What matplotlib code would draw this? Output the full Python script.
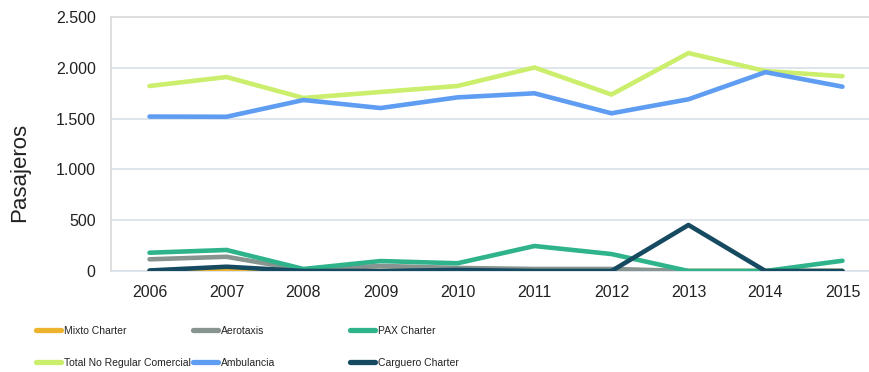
import matplotlib
matplotlib.use("Agg")
import matplotlib.pyplot as plt
from matplotlib.lines import Line2D

plt.rcParams['font.family'] = ['Liberation Sans', 'DejaVu Sans']

years = ["2006", "2007", "2008", "2009", "2010", "2011", "2012", "2013", "2014", "2015"]

mixto_charter = [0, 15, 0, 0, 0, 0, 5, 0, 0, 0]
aerotaxis = [115, 140, 10, 50, 30, 20, 20, 0, 0, 0]
pax_charter = [180, 207, 20, 98, 76, 246, 167, 0, 0, 101]
total_no_regular = [1821, 1909, 1703, 1762, 1821, 2003, 1737, 2145, 1968, 1917]
ambulancia = [1520, 1518, 1683, 1604, 1709, 1749, 1552, 1690, 1957, 1814]
carguero_charter = [5, 42, 0, 0, 10, 0, 0, 453, 0, 0]

series = [
    ("Mixto Charter", mixto_charter, "#EDB32E"),
    ("Aerotaxis", aerotaxis, "#87948F"),
    ("PAX Charter", pax_charter, "#2FB38A"),
    ("Total No Regular Comercial", total_no_regular, "#CBEE6C"),
    ("Ambulancia", ambulancia, "#5E9DF2"),
    ("Carguero Charter", carguero_charter, "#164A61"),
]

fig = plt.figure(figsize=(8.7, 3.72), dpi=100)
ax = fig.add_axes([0.1276, 0.2715, 0.885, 0.6828])

x = list(range(len(years)))
for name, vals, color in series:
    ax.plot(x, vals, color=color, lw=3.3, solid_capstyle="round",
            solid_joinstyle="round", label=name, zorder=3)

ax.set_xlim(-0.5, len(years) - 0.5)
ax.set_ylim(0, 2500)
ax.set_yticks([0, 500, 1000, 1500, 2000, 2500])
ax.set_yticklabels(["0", "500", "1.000", "1.500", "2.000", "2.500"])
ax.set_xticks(x)
ax.set_xticklabels(years)
ax.tick_params(axis="both", length=0, labelsize=11.5, colors="#222222")
ax.tick_params(axis="y", pad=11)
ax.tick_params(axis="x", pad=10)

ax.grid(axis="y", color="#D8E0EA", lw=1.2, zorder=1)
ax.spines["right"].set_visible(False)
ax.spines["top"].set_color("#D9D9D9")
ax.spines["left"].set_color("#D9D9D9")
ax.spines["bottom"].set_color("#D8E0EA")
for s in ["top", "left", "bottom"]:
    ax.spines[s].set_linewidth(1.2)

ax.set_ylabel("Pasajeros", fontsize=16, color="#222222")
ax.yaxis.set_label_coords(-0.105, 0.39)

# legend: three columns of two entries each
legend_size = 7.5
col_x = [38 / 870, 195 / 870, 352 / 870]
for c in range(3):
    hs = []
    for r in range(2):
        name, vals, color = series[c + 3 * r]
        hs.append(Line2D([], [], color=color, lw=3.8, solid_capstyle="round"))
    labels = [series[c][0], series[c + 3][0]]
    leg = fig.legend(hs, labels, loc="upper left",
                     bbox_to_anchor=(col_x[c] - 0.002, 1 - 326 / 372),
                     frameon=False, handlelength=2.4,
                     handletextpad=0.3, labelspacing=2.12, borderpad=0,
                     borderaxespad=0,
                     prop={"family": ["Liberation Sans", "DejaVu Sans"],
                           "size": legend_size})
    for t in leg.get_texts():
        t.set_color("#222222")

fig.savefig("out.png", dpi=100)
